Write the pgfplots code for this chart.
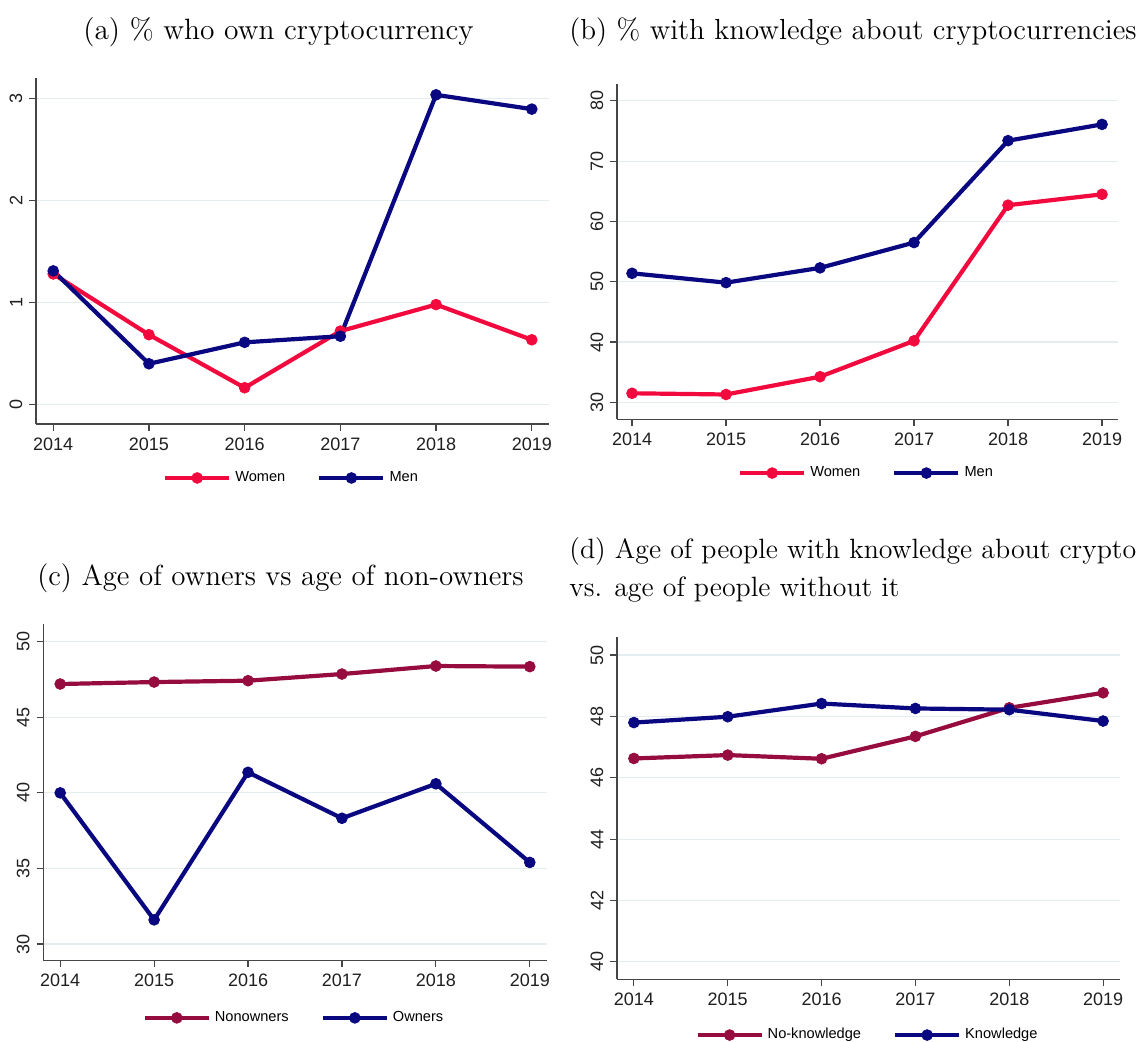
\documentclass[border=0pt]{standalone}
\usepackage{fontspec}
\usepackage{pgfplots}
\pgfplotsset{compat=1.18}
\newfontfamily\arial{Liberation Sans}
\definecolor{cred}{RGB}{242,10,62}
\definecolor{cnavy}{RGB}{10,8,128}
\definecolor{cmaroon}{RGB}{150,12,62}
\definecolor{cgrid}{RGB}{228,237,240}
\definecolor{caxis}{RGB}{70,70,70}

\pgfplotsset{
 panel/.style={
  scale only axis,
  axis x line*=bottom, axis y line*=left,
  axis line style={caxis, line width=0.65pt, -},
  tick style={caxis, line width=0.6pt},
  tick align=outside,
  major tick length=3.3pt,
  xmin=2013.82, xmax=2019.18,
  xtick={2014,2015,2016,2017,2018,2019},
  xticklabels={2014,2015,2016,2017,2018,2019},
  ymajorgrids, grid style={cgrid, line width=0.6pt},
  ticklabel style={font=\arial\fontsize{9}{10}\selectfont, text=black!88},
  yticklabel style={rotate=90, anchor=south},
  xticklabel style={anchor=north},
  legend columns=2,
  legend style={draw=none, fill=none, font=\arial\fontsize{7.3}{8}\selectfont, anchor=center,
    /tikz/every even column/.append style={column sep=14pt}},
  legend image code/.code={\draw[mark repeat=2,mark phase=2,##1] plot coordinates {(0pt,0pt) (16pt,0pt) (32pt,0pt)};},
  every axis plot/.append style={line width=2.1pt, mark=*, mark size=2.7pt, mark options={line width=0.4pt}},
 },
}

\begin{document}
\begin{tikzpicture}
\useasboundingbox (0,0) rectangle (571pt,-521pt);

\node[font=\fontsize{14.7}{17}\selectfont] at (139.25pt,-16pt) {(a) \% who own cryptocurrency};
\node[font=\fontsize{14.5}{17}\selectfont] at (426.5pt,-16pt) {(b) \% with knowledge about cryptocurrencies};
\node[font=\fontsize{14.5}{17}\selectfont] at (140.25pt,-289pt) {(c) Age of owners vs age of non-owners};
\node[font=\fontsize{13.95}{17}\selectfont, anchor=west, inner sep=0pt] at (284.5pt,-276pt) {(d) Age of people with knowledge about crypto};
\node[font=\fontsize{13.95}{17}\selectfont, anchor=west, inner sep=0pt] at (284.5pt,-295pt) {vs. age of people without it};

% (a)
\begin{axis}[panel, at={(18pt,-212pt)}, anchor=south west, width=256.5pt, height=173pt,
  ymin=-0.19, ymax=3.2, ytick={0,1,2,3}, yticklabels={0,1,2,3},
  legend style={at={(0.5,-0.156)}}]
\addplot[cred] coordinates {(2014,1.28) (2015,0.685) (2016,0.165) (2017,0.72) (2018,0.98) (2019,0.635)};
\addlegendentry{Women}
\addplot[cnavy] coordinates {(2014,1.31) (2015,0.40) (2016,0.61) (2017,0.67) (2018,3.035) (2019,2.895)};
\addlegendentry{Men}
\end{axis}

% (b)
\begin{axis}[panel, at={(308.5pt,-209.7pt)}, anchor=south west, width=250.5pt, height=167.7pt,
  xmin=2013.84, xmax=2019.17,
  ymin=27.17, ymax=82.8, ytick={30,40,50,60,70,80}, yticklabels={30,40,50,60,70,80},
  legend style={at={(0.5,-0.16)}}]
\addplot[cred] coordinates {(2014,31.5) (2015,31.3) (2016,34.25) (2017,40.2) (2018,62.7) (2019,64.5)};
\addlegendentry{Women}
\addplot[cnavy] coordinates {(2014,51.4) (2015,49.85) (2016,52.3) (2017,56.5) (2018,73.4) (2019,76.1)};
\addlegendentry{Men}
\end{axis}

% (c)
\begin{axis}[panel, at={(21.65pt,-480.35pt)}, anchor=south west, width=251.7pt, height=168.2pt,
  ymin=28.9, ymax=51.15, ytick={30,35,40,45,50}, yticklabels={30,35,40,45,50},
  legend style={at={(0.5,-0.17)}}]
\addplot[cmaroon] coordinates {(2014,47.2) (2015,47.33) (2016,47.42) (2017,47.86) (2018,48.39) (2019,48.35)};
\addlegendentry{Nonowners}
\addplot[cnavy] coordinates {(2014,40.0) (2015,31.6) (2016,41.36) (2017,38.32) (2018,40.6) (2019,35.4)};
\addlegendentry{Owners}
\end{axis}

% (d)
\begin{axis}[panel, at={(308.5pt,-489.65pt)}, anchor=south west, width=251.5pt, height=171pt,
  ymin=39.43, ymax=50.58, ytick={40,42,44,46,48,50}, yticklabels={40,42,44,46,48,50},
  legend style={at={(0.5,-0.163)}}]
\addplot[cmaroon] coordinates {(2014,46.63) (2015,46.74) (2016,46.62) (2017,47.35) (2018,48.28) (2019,48.77)};
\addlegendentry{No-knowledge}
\addplot[cnavy] coordinates {(2014,47.8) (2015,47.99) (2016,48.42) (2017,48.26) (2018,48.22) (2019,47.85)};
\addlegendentry{Knowledge}
\end{axis}
\end{tikzpicture}
\end{document}
